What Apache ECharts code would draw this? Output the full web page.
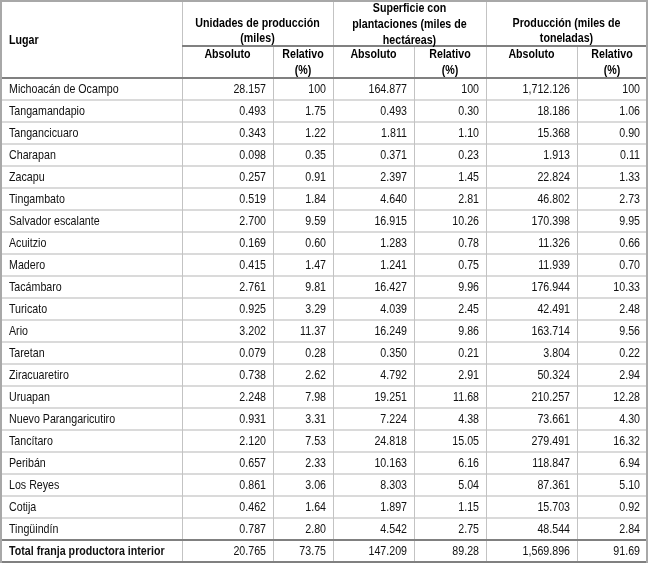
<!DOCTYPE html>
<html><head><meta charset="utf-8">
<script src="https://cdn.jsdelivr.net/npm/echarts@6/dist/echarts.min.js"></script>
<style>html,body{margin:0;padding:0;background:#fff}#c{width:648px;height:565px}</style>
</head><body><div id="c"></div>
<script>
// ---- data ----
const lugares = ['Michoacán de Ocampo','Tangamandapio','Tangancicuaro','Charapan','Zacapu','Tingambato','Salvador escalante','Acuitzio','Madero','Tacámbaro','Turicato','Ario','Taretan','Ziracuaretiro','Uruapan','Nuevo Parangaricutiro','Tancítaro','Peribán','Los Reyes','Cotija','Tingüindín','Total franja productora interior'];
const unidadesAbs = [28.157,0.493,0.343,0.098,0.257,0.519,2.700,0.169,0.415,2.761,0.925,3.202,0.079,0.738,2.248,0.931,2.120,0.657,0.861,0.462,0.787,20.765];
const unidadesRel = [100,1.75,1.22,0.35,0.91,1.84,9.59,0.60,1.47,9.81,3.29,11.37,0.28,2.62,7.98,3.31,7.53,2.33,3.06,1.64,2.80,73.75];
const superficieAbs = [164.877,0.493,1.811,0.371,2.397,4.640,16.915,1.283,1.241,16.427,4.039,16.249,0.350,4.792,19.251,7.224,24.818,10.163,8.303,1.897,4.542,147.209];
const superficieRel = [100,0.30,1.10,0.23,1.45,2.81,10.26,0.78,0.75,9.96,2.45,9.86,0.21,2.91,11.68,4.38,15.05,6.16,5.04,1.15,2.75,89.28];
const produccionAbs = [1712.126,18.186,15.368,1.913,22.824,46.802,170.398,11.326,11.939,176.944,42.491,163.714,3.804,50.324,210.257,73.661,279.491,118.847,87.361,15.703,48.544,1569.896];
const produccionRel = [100,1.06,0.90,0.11,1.33,2.73,9.95,0.66,0.70,10.33,2.48,9.56,0.22,2.94,12.28,4.30,16.32,6.94,5.10,0.92,2.84,91.69];
const headerLugar = 'Lugar';
const groupHeaders = ['Unidades de producción\n(miles)','Superficie con\nplantaciones (miles de\nhectáreas)','Producción (miles de\ntoneladas)'];
const subHeaders = ['Absoluto','Relativo\n(%)'];

// ---- layout ----
const colWidths = [181,91,60,81,72,91,70];
const FONT = '"Liberation Sans",Arial,sans-serif';
const SX = 0.82; // horizontal squeeze to emulate a narrow face
const GL = 1, GT = 78, GW = 646, GH = 484;
const edges = [0]; colWidths.forEach(w => edges.push(edges[edges.length-1] + w));
const absEdges = edges.map(e => e + GL);

function fmtAbs(v){
  const s = v.toFixed(3).split('.');
  return s[0].replace(/\B(?=(\d{3})+(?!\d))/g, ',') + '.' + s[1];
}
function fmtRel(v){ return v === 100 ? '100' : v.toFixed(2); }

const rows = lugares.map((n,i) => [i, n,
  fmtAbs(unidadesAbs[i]), fmtRel(unidadesRel[i]),
  fmtAbs(superficieAbs[i]), fmtRel(superficieRel[i]),
  fmtAbs(produccionAbs[i]), fmtRel(produccionRel[i])]);
const last = lugares.length - 1;

const TXT = '#111';
const VLINE = '#c3c3c3', HLINE = '#dadada', DARK = '#808080';

function cellText(t, x, y, align, bold){
  return {type:'text', x:x, y:y, scaleX:SX, z2:10,
    style:{text:t, x:0, y:0, align:align, verticalAlign:'middle', font:(bold?'bold ':'') + '13px ' + FONT, fill:TXT}};
}

function renderItem(params, api){
  const r = api.value(0);
  const row = rows[r];
  const c = api.coord([0, r]);
  const h = api.size([0, 1])[1];
  const y0 = c[1] - h/2, y1 = c[1] + h/2;
  const xs = edges.map(e => api.coord([e, r])[0]);
  const ch = [];
  if (r < last - 1) ch.push({type:'line', shape:{x1:xs[0], y1:y1, x2:xs[7], y2:y1}, style:{stroke:HLINE, lineWidth:2}});
  if (r === last) {
    ch.push({type:'line', shape:{x1:xs[0], y1:y0, x2:xs[7], y2:y0}, style:{stroke:DARK, lineWidth:2}, z2:5});
    ch.push({type:'line', shape:{x1:xs[0], y1:y1, x2:xs[7], y2:y1}, style:{stroke:DARK, lineWidth:2}, z2:5});
  }
  for (let k = 1; k < 7; k++) {
    const x = Math.round(xs[k]) + 0.5;
    ch.push({type:'line', shape:{x1:x, y1:y0, x2:x, y2:y1}, style:{stroke:VLINE, lineWidth:1}});
  }
  ch.push(cellText(row[1], xs[0]+8, c[1]+0.5, 'left', r === last));
  for (let k = 1; k < 7; k++) ch.push(cellText(row[k+1], xs[k+1]-7, c[1]+0.5, 'right', false));
  return {type:'group', children:ch};
}

// header graphics
const g = [];
function hline(x1,y,x2,color,w){ g.push({type:'line', shape:{x1:x1,y1:y,x2:x2,y2:y}, style:{stroke:color,lineWidth:w}, z:10}); }
function vline(x,y1,y2,color){ g.push({type:'line', shape:{x1:x+0.5,y1:y1,x2:x+0.5,y2:y2}, style:{stroke:color,lineWidth:1}, z:10}); }
function txt(t,x,y,align,lh){ g.push({type:'text', x:x, y:y, scaleX:SX, z:11,
  style:{text:t, x:0, y:0, align:align, verticalAlign:'middle', font:'bold 13px '+FONT, fill:'#000', lineHeight:lh}}); }

[1,3,5].forEach(k => vline(absEdges[k], 1, GT, VLINE));
[2,4,6].forEach(k => vline(absEdges[k], 46, GT, VLINE));
hline(absEdges[1], 46, absEdges[7], DARK, 2);
hline(0, GT, absEdges[7], DARK, 2);
hline(0, 1, 648, '#a8a8a8', 2);
g.push({type:'line', shape:{x1:1,y1:0,x2:1,y2:GT+GH+1}, style:{stroke:'#a8a8a8',lineWidth:2}, z:10});
g.push({type:'line', shape:{x1:absEdges[7],y1:0,x2:absEdges[7],y2:GT+GH+1}, style:{stroke:'#a8a8a8',lineWidth:2}, z:10});

txt(headerLugar, 9, 40, 'left', 15);
txt(groupHeaders[0], (absEdges[1]+absEdges[3])/2, 31, 'center', 15);
txt(groupHeaders[1], (absEdges[3]+absEdges[5])/2, 24, 'center', 16);
txt(groupHeaders[2], (absEdges[5]+absEdges[7])/2, 31, 'center', 15);
for (let grp = 0; grp < 3; grp++) {
  const a = absEdges[1+grp*2], b = absEdges[2+grp*2], c2 = absEdges[3+grp*2];
  txt(subHeaders[0], (a+b)/2, 54, 'center', 16);
  txt(subHeaders[1], (b+c2)/2, 62, 'center', 16);
}

const chart = echarts.init(document.getElementById('c'), null, {renderer:'canvas'});
chart.setOption({
  animation:false,
  backgroundColor:'#fff',
  grid:{left:GL, top:GT, width:GW, height:GH, containLabel:false},
  xAxis:{type:'value', min:0, max:edges[7], show:false},
  yAxis:{type:'category', data:lugares, inverse:true, show:false, boundaryGap:true},
  series:[{type:'custom', renderItem:renderItem, data:rows.map(r => [r[0]]), encode:{y:0}, silent:true, clip:false}],
  graphic:g
});
</script>
</body></html>
